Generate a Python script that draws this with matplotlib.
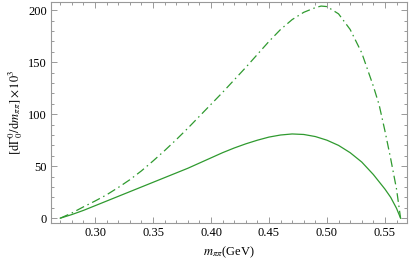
import numpy as np
import matplotlib
matplotlib.use('Agg')
import matplotlib.pyplot as plt
from matplotlib.ticker import MultipleLocator

plt.rcParams['font.family'] = 'Liberation Serif'
plt.rcParams['mathtext.fontset'] = 'stix'

# solid curve
m_solid = [0.27, 0.28, 0.29, 0.30, 0.31, 0.32, 0.33, 0.34, 0.35, 0.36, 0.37,
           0.38, 0.39, 0.40, 0.41, 0.42, 0.43, 0.44, 0.45, 0.46, 0.47, 0.48,
           0.49, 0.50, 0.51, 0.52, 0.53, 0.54, 0.55, 0.555, 0.56, 0.5635]
g_solid = [0, 3.5, 7.5, 12, 16.5, 21, 25.5, 30, 34.5, 39, 43.5,
           48, 53, 58, 63, 67.5, 71.5, 75, 78, 80, 81, 80.5,
           78.5, 75, 70, 63, 54, 42, 28, 20, 9.5, 0]

# dash-dot curve
m_dd = [0.27, 0.28, 0.29, 0.30, 0.31, 0.32, 0.33, 0.34, 0.35, 0.36, 0.37,
        0.38, 0.39, 0.40, 0.41, 0.42, 0.43, 0.44, 0.45, 0.46, 0.47, 0.48,
        0.49, 0.495, 0.50, 0.51, 0.52, 0.53, 0.54, 0.545, 0.55, 0.555,
        0.56, 0.5635]
g_dd = [0, 5, 10.9, 16.5, 22.5, 29.5, 37, 45.5, 55, 65, 75.5,
        86.5, 98, 109.5, 121, 133, 145, 157.5, 170, 181.5, 191, 198,
        202.5, 204, 203.5, 196.5, 181.5, 159, 127, 109, 84, 57,
        28, 0]

xticks = [0.30, 0.35, 0.40, 0.45, 0.50, 0.55]
yticks = [0, 50, 100, 150, 200]

green = '#2f9a2f'
frame = '#999999'

fig = plt.figure(figsize=(4.09, 2.64), dpi=100)
ax = fig.add_axes([0.1247, 0.157, 0.8703, 0.835])

ax.plot(m_solid, g_solid, color=green, lw=0.9)
ax.plot(m_dd, g_dd, color=green, lw=0.9, dashes=(7, 3, 1.2, 3))

ax.set_xlim(0.262, 0.569)
ax.set_ylim(-4.2, 207.8)
ax.set_xticks(xticks)
ax.set_xticklabels(['%.2f' % v for v in xticks])
ax.set_yticks(yticks)
ax.xaxis.set_minor_locator(MultipleLocator(0.01))
ax.yaxis.set_minor_locator(MultipleLocator(10))

ax.tick_params(which='both', direction='in', top=True, right=True,
               color=frame, labelsize=9, width=0.7, pad=3)
ax.tick_params(which='major', length=4)
ax.tick_params(which='minor', length=2)
for s in ax.spines.values():
    s.set_color(frame)
    s.set_linewidth(0.8)

ax.set_xlabel(r'$m_{\pi\pi}$(GeV)', fontsize=9, labelpad=4)
ax.set_ylabel(r'$[\mathrm{d}\Gamma^0_0/\mathrm{d}m_{\pi\pi}]\times10^3$',
              fontsize=9, labelpad=2)

fig.savefig('out.png', dpi=100)
